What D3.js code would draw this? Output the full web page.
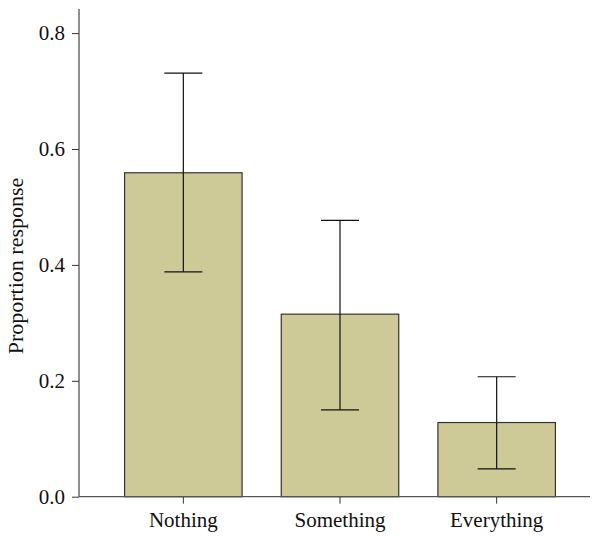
<!DOCTYPE html>
<html>
<head>
<meta charset="utf-8">
<script src="https://cdn.jsdelivr.net/npm/d3@7"></script>
<style>
  body { margin: 0; background: white; }
  text { font-family: "Liberation Serif", "DejaVu Serif", serif; fill: #111; }
</style>
</head>
<body>
<svg></svg>
<script>
//SET UP THE CANVAS
var w = 595;
var h = 536;

// data
var categories = ["Nothing", "Something", "Everything"];
var values = [0.559, 0.315, 0.128];
var errHigh = [0.731, 0.477, 0.207];
var errLow = [0.388, 0.150, 0.048];
var yTicks = [0, 0.2, 0.4, 0.6, 0.8];

var svg = d3.select("svg")
  .attr("width", w)
  .attr("height", h);

var xScale = d3.scaleBand()
  .domain(categories)
  .range([105, 575])
  .paddingInner(0.25)
  .paddingOuter(0.125);

var yScale = d3.scaleLinear()
  .domain([0, 0.8])
  .range([496.7, 33.1]);

//AXES
var yAxis = svg.append("g")
  .attr("transform", "translate(79,0)")
  .call(d3.axisLeft(yScale).tickValues(yTicks).tickFormat(d3.format(".1f")).tickSize(7).tickSizeOuter(0).tickPadding(7));
yAxis.select(".domain").remove();
yAxis.selectAll("line").attr("stroke", "#333");
yAxis.selectAll("text").style("font-size", "21px")
  .style("font-family", "'Liberation Serif', serif");

// y axis line (extends above top tick)
svg.append("line")
  .attr("x1", 79).attr("x2", 79)
  .attr("y1", 9).attr("y2", yScale(0))
  .attr("stroke", "#444").attr("stroke-width", 1.2);

var xAxis = svg.append("g")
  .attr("transform", "translate(0," + yScale(0) + ")")
  .call(d3.axisBottom(xScale).tickSize(7).tickSizeOuter(0).tickPadding(8));
xAxis.select(".domain").remove();
xAxis.selectAll("line").attr("stroke", "#333");
xAxis.selectAll("text").style("font-size", "21px")
  .style("font-family", "'Liberation Serif', serif");

//BARS
svg.selectAll("rect.bar")
  .data(values)
  .enter()
  .append("rect")
  .attr("class", "bar")
  .attr("x", function (d, i) { return xScale(categories[i]); })
  .attr("width", xScale.bandwidth())
  .attr("y", function (d) { return yScale(d); })
  .attr("height", function (d) { return yScale(0) - yScale(d); })
  .attr("fill", "#cdca97")
  .attr("stroke", "#333")
  .attr("stroke-width", 1.2);

svg.append("line")
  .attr("x1", 79).attr("x2", 590)
  .attr("y1", yScale(0)).attr("y2", yScale(0))
  .attr("stroke", "#555").attr("stroke-width", 1.2);

//ERROR BARS
var capHalf = 19;
var err = svg.selectAll("g.err")
  .data(values)
  .enter()
  .append("g")
  .attr("class", "err")
  .attr("stroke", "#111")
  .attr("stroke-width", 1.2);

err.append("line")
  .attr("x1", function (d, i) { return xScale(categories[i]) + xScale.bandwidth() / 2; })
  .attr("x2", function (d, i) { return xScale(categories[i]) + xScale.bandwidth() / 2; })
  .attr("y1", function (d, i) { return yScale(errHigh[i]); })
  .attr("y2", function (d, i) { return yScale(errLow[i]); });
err.append("line")
  .attr("x1", function (d, i) { return xScale(categories[i]) + xScale.bandwidth() / 2 - capHalf; })
  .attr("x2", function (d, i) { return xScale(categories[i]) + xScale.bandwidth() / 2 + capHalf; })
  .attr("y1", function (d, i) { return yScale(errHigh[i]); })
  .attr("y2", function (d, i) { return yScale(errHigh[i]); });
err.append("line")
  .attr("x1", function (d, i) { return xScale(categories[i]) + xScale.bandwidth() / 2 - capHalf; })
  .attr("x2", function (d, i) { return xScale(categories[i]) + xScale.bandwidth() / 2 + capHalf; })
  .attr("y1", function (d, i) { return yScale(errLow[i]); })
  .attr("y2", function (d, i) { return yScale(errLow[i]); });

//Y TITLE
svg.append("text")
  .attr("transform", "translate(23,266) rotate(-90)")
  .attr("text-anchor", "middle")
  .style("font-size", "22px")
  .text("Proportion response");
</script>
</body>
</html>
